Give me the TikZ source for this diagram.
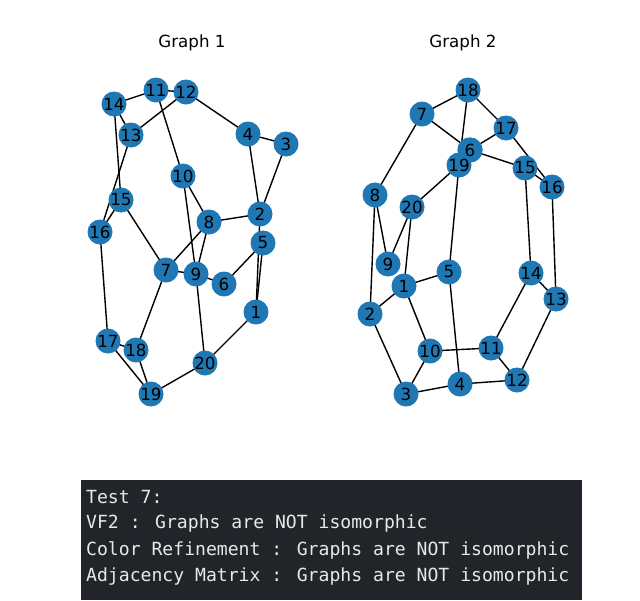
\documentclass[tikz,border=0pt]{standalone}
\usepackage{fontspec}
\setmainfont{DejaVu Sans}
\newfontfamily\consolefont{DejaVu Sans Mono}
\definecolor{nodeblue}{HTML}{1F77B4}
\definecolor{consolebg}{RGB}{33,37,41}
\definecolor{consolefg}{RGB}{232,232,232}
\begin{document}
\begin{tikzpicture}[x=1pt,y=-1pt,
  vtx/.style={circle,fill=nodeblue,minimum size=25pt,inner sep=0pt,font=\fontsize{16.7}{16.7}\selectfont},
  edge/.style={line width=1.4pt,black},
  title/.style={font=\fontsize{16.7}{19}\selectfont},
  consoleline/.style={anchor=west,text=consolefg,font=\consolefont\fontsize{18.1}{20}\selectfont,inner sep=0pt}]
\useasboundingbox (0,0) rectangle (640,600);
\fill[white] (0,0) rectangle (640,600);
% titles
\node[title] (t1) at (192,43) {Graph 1};
\node[title] (t2) at (463,43) {Graph 2};
% ---------------- Graph 1 ----------------
\begin{scope}
\coordinate (a1) at (256,312);
\coordinate (a2) at (260,214);
\coordinate (a3) at (286,144);
\coordinate (a4) at (248,134);
\coordinate (a5) at (263,243);
\coordinate (a6) at (224,284);
\coordinate (a7) at (166,270);
\coordinate (a8) at (209,222);
\coordinate (a9) at (196,274);
\coordinate (a10) at (183,176);
\coordinate (a11) at (156,90);
\coordinate (a12) at (186,92);
\coordinate (a13) at (131,135);
\coordinate (a14) at (114,104);
\coordinate (a15) at (121,200);
\coordinate (a16) at (100,232);
\coordinate (a17) at (108,341);
\coordinate (a18) at (136,350);
\coordinate (a19) at (151,394);
\coordinate (a20) at (205,363);
\foreach \u/\v in {14/11,11/12,11/10,12/13,12/4,14/13,14/15,13/16,4/3,4/2,3/2,10/8,10/9,15/16,15/7,8/2,8/7,8/9,2/1,5/1,5/6,7/9,9/6,9/20,7/18,16/17,17/18,17/19,18/19,19/20,20/1}
  \draw[edge] (a\u) -- (a\v);
\foreach \i in {1,...,20}
  \node[vtx] (A\i) at (a\i) {\i};
\end{scope}
% ---------------- Graph 2 ----------------
\begin{scope}
\coordinate (b1) at (404,286);
\coordinate (b2) at (370,314);
\coordinate (b3) at (406,394);
\coordinate (b4) at (460,384);
\coordinate (b5) at (449,272);
\coordinate (b6) at (470,150);
\coordinate (b7) at (422,114);
\coordinate (b8) at (375,195);
\coordinate (b9) at (388,264);
\coordinate (b10) at (430,351);
\coordinate (b11) at (491,348);
\coordinate (b12) at (517,380);
\coordinate (b13) at (556,299);
\coordinate (b14) at (531,273);
\coordinate (b15) at (525,168);
\coordinate (b16) at (552,187);
\coordinate (b17) at (506,128);
\coordinate (b18) at (468,90);
\coordinate (b19) at (459,165);
\coordinate (b20) at (412,207);
\foreach \u/\v in {7/18,18/19,18/17,7/6,17/6,17/16,6/15,15/16,19/20,19/5,15/14,16/13,8/7,8/9,8/2,20/9,20/1,1/5,1/2,1/10,14/13,14/11,2/3,3/10,3/4,10/11,11/12,12/13,4/12,5/4}
  \draw[edge] (b\u) -- (b\v);
\foreach \i in {1,...,18,20}
  \node[vtx] (B\i) at (b\i) {\i};
\node[vtx] (B6b) at (b6) {6};
\node[vtx] (B19) at (b19) {19};
\end{scope}
% ---------------- console ----------------
\fill[consolebg] (81,480) rectangle (582,600);
\node[consoleline] (c1) at (86,497) {Test 7:};
\node[consoleline] (c2) at (86,523) {VF2 : Graphs are NOT isomorphic};
\node[consoleline] (c3) at (86,550) {Color Refinement : Graphs are NOT isomorphic};
\node[consoleline] (c4) at (86,576) {Adjacency Matrix : Graphs are NOT isomorphic};
\end{tikzpicture}
\end{document}
